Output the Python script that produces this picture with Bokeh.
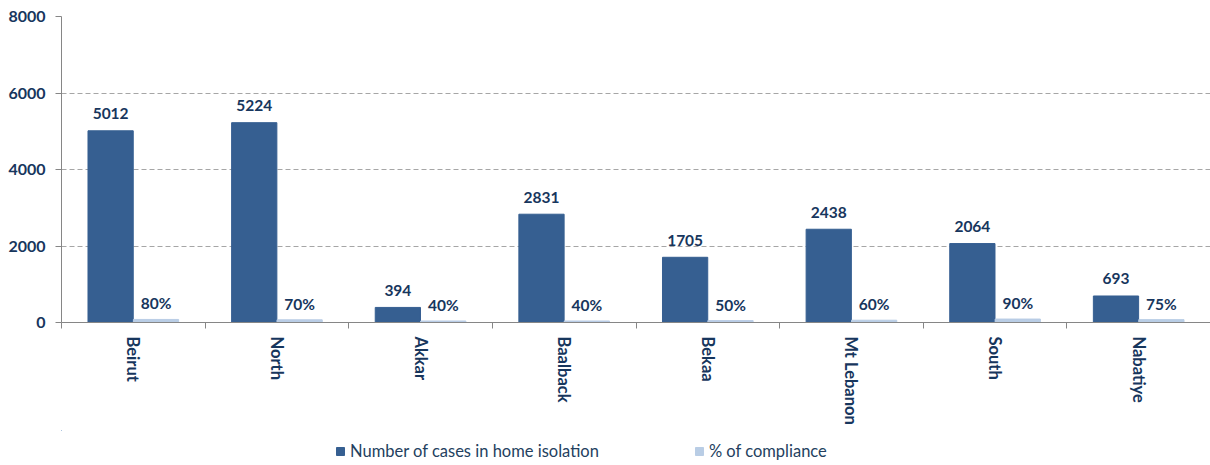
import math
import numpy as np
from bokeh.plotting import figure
from bokeh.layouts import column
from bokeh.models import (ColumnDataSource, Range1d, FixedTicker, Legend, LegendItem)
from bokeh.core.properties import value
from bokeh.transform import dodge
from bokeh.embed import file_html
from bokeh.resources import INLINE

regions = ["Beirut", "North", "Akkar", "Baalback", "Bekaa", "Mt Lebanon", "South", "Nabatiye"]
cases = [5012, 5224, 394, 2831, 1705, 2438, 2064, 693]
compliance = [80, 70, 40, 40, 50, 60, 90, 75]
y_ticks = [0, 2000, 4000, 6000, 8000]
series_names = ["Number of cases in home isolation", "% of compliance"]

DARK = "#365F91"
LIGHT = "#B9CDE5"
NAVY = "#17365D"
FONT = "Lato"

centers = np.arange(len(regions)) + 0.5
src = ColumnDataSource(dict(
    x=centers,
    cases=cases,
    comp=compliance,
    cases_lbl=[str(v) for v in cases],
    comp_lbl=[f"{v}%" for v in compliance],
))

p = figure(width=1210, height=430, output_backend="svg", toolbar_location=None,
           x_range=Range1d(0, len(regions)), y_range=Range1d(0, 8000),
           min_border_left=61, min_border_right=0, min_border_top=16, min_border_bottom=108)
p.outline_line_color = None
p.background_fill_color = "white"
p.border_fill_color = "white"

bw = 0.315
off = 0.158
r1 = p.vbar(x=dodge("x", -off), top="cases", width=bw, source=src,
            fill_color=DARK, line_color=DARK)
r2 = p.vbar(x=dodge("x", off), top="comp", width=bw, source=src,
            fill_color=LIGHT, line_color=LIGHT)

p.text(x=dodge("x", -off), y="cases", text="cases_lbl", source=src,
       text_align="center", text_baseline="alphabetic", y_offset=-17,
       text_font=value(FONT), text_font_size="15.5px", text_font_style="bold",
       text_color=NAVY)
p.text(x=dodge("x", off), y="comp", text="comp_lbl", source=src,
       text_align="center", text_baseline="alphabetic", y_offset=-16,
       text_font=value(FONT), text_font_size="15.5px", text_font_style="bold",
       text_color=NAVY)

# x axis: labels at category centres, ticks at category boundaries (minor ticks)
xa = p.xaxis[0]
xa.ticker = FixedTicker(ticks=list(centers), minor_ticks=list(range(len(regions) + 1)))
xa.major_label_overrides = {float(c): r for c, r in zip(centers, regions)}
xa.major_label_orientation = -math.pi / 2
xa.major_tick_out = 0
xa.major_tick_in = 0
xa.minor_tick_out = 6
xa.minor_tick_in = 0
xa.minor_tick_line_color = "#868686"
xa.axis_line_color = "#868686"
xa.major_label_standoff = 8
xa.major_label_text_font = FONT
xa.major_label_text_font_size = "16.5px"
xa.major_label_text_font_style = "bold"
xa.major_label_text_color = NAVY

ya = p.yaxis[0]
ya.ticker = FixedTicker(ticks=y_ticks)
ya.axis_line_color = "#868686"
ya.major_tick_line_color = "#868686"
ya.major_tick_out = 6
ya.major_tick_in = 0
ya.minor_tick_out = 0
ya.minor_tick_in = 0
ya.major_label_standoff = 10
ya.major_label_text_font = FONT
ya.major_label_text_font_size = "16px"
ya.major_label_text_font_style = "bold"
ya.major_label_text_color = NAVY

p.xgrid.visible = False
p.ygrid.ticker = FixedTicker(ticks=y_ticks)
p.ygrid.grid_line_color = "#A6A6A6"
p.ygrid.grid_line_dash = "5 3"

# legend strip below the chart (its renderers lie outside its visible ranges)
q = figure(width=1210, height=35, output_backend="svg", toolbar_location=None,
           x_range=Range1d(100, 108), y_range=Range1d(-20, -10),
           min_border_left=0, min_border_right=0, min_border_top=0, min_border_bottom=0)
q.axis.visible = False
q.grid.visible = False
q.outline_line_color = None
q.border_fill_color = "white"
l1 = q.vbar(x="x", top="cases", width=bw, source=src, fill_color=DARK, line_color=DARK)
l2 = q.vbar(x="x", top="comp", width=bw, source=src, fill_color=LIGHT, line_color=LIGHT)

legend = Legend(items=[LegendItem(label=value(series_names[0]), renderers=[l1]),
                       LegendItem(label=value(series_names[1]), renderers=[l2])],
                location=(274, 4), orientation="horizontal",
                padding=0, margin=0, spacing=95, border_line_color=None,
                background_fill_alpha=0, glyph_width=10, glyph_height=10,
                label_standoff=5, label_text_font=FONT,
                label_text_font_size="16.5px", label_text_color="#243F60", label_height=20)
q.add_layout(legend)

layout = column(p, q, spacing=0)
open("out.html", "w").write(file_html(layout, INLINE))
